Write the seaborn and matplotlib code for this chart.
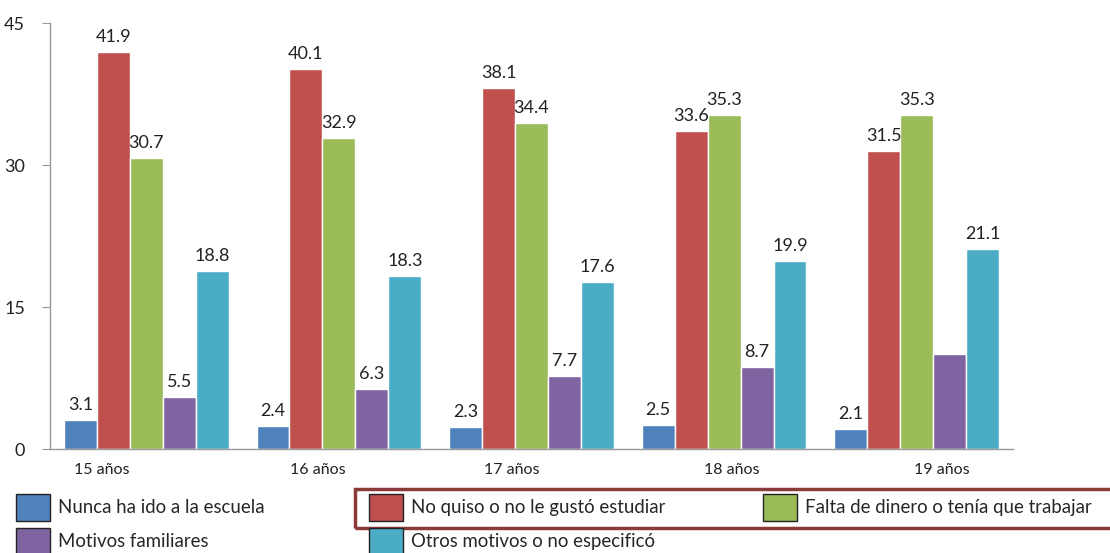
import pandas as pd
import seaborn as sns
import matplotlib.pyplot as plt
from matplotlib.patches import Rectangle

# data
grupos = ["15 años", "16 años", "17 años", "18 años", "19 años"]
series = ["Nunca ha ido a la escuela", "No quiso o no le gustó estudiar",
          "Falta de dinero o tenía que trabajar", "Motivos familiares",
          "Otros motivos o no especificó"]
nunca = [3.1, 2.4, 2.3, 2.5, 2.1]
no_quiso = [41.9, 40.1, 38.1, 33.6, 31.5]
falta_dinero = [30.7, 32.9, 34.4, 35.3, 35.3]
familiares = [5.5, 6.3, 7.7, 8.7, 10.0]
otros = [18.8, 18.3, 17.6, 19.9, 21.1]
# the 19 años purple bar has no label in the original
etiqueta_familiares = ["5.5", "6.3", "7.7", "8.7", ""]
colores = ["#4F81BD", "#C0504D", "#9BBB59", "#8064A2", "#4BACC6"]
# small shifts of the category labels, in group units
desplaz_x = [-0.23, -0.111, -0.101, 0.041, 0.131]

rows = []
for s, vals in zip(series, [nunca, no_quiso, falta_dinero, familiares, otros]):
    for g, v in zip(grupos, vals):
        rows.append({"grupo": g, "motivo": s, "valor": v})
df = pd.DataFrame(rows)

sns.set_style("white")
plt.rcParams['font.family'] = ['Lato', 'DejaVu Sans']

fig = plt.figure(figsize=(11.1, 5.53), dpi=100)
ax = fig.add_axes([50 / 1110, 0.188, 963 / 1110, 0.7704])
sns.barplot(data=df, x="grupo", y="valor", hue="motivo", order=grupos,
            hue_order=series, palette=colores, width=0.855, saturation=1,
            ax=ax, legend=False)

for i, cont in enumerate(ax.containers):
    if i == 3:
        labs = etiqueta_familiares
    else:
        labs = ["%.1f" % b.get_height() for b in cont]
    ax.bar_label(cont, labels=labs, padding=5, fontsize=13, color="#222222")

ax.set_xlim(-0.5, 4.5)
ax.set_ylim(0, 45)
ax.set_yticks([0, 15, 30, 45])
ax.set_xticks([])
ax.set_xlabel("")
ax.set_ylabel("")
ax.tick_params(axis="y", left=True, length=6, color="#999999", labelsize=13,
               labelcolor="#222222", pad=12)
for sp in ["top", "right"]:
    ax.spines[sp].set_visible(False)
for sp in ["left", "bottom"]:
    ax.spines[sp].set_color("#999999")
    ax.spines[sp].set_linewidth(1)

for i, g in enumerate(grupos):
    ax.text(i + desplaz_x[i], -2.2, g, ha="center", va="center", fontsize=11.5,
            color="#222222", transform=ax.transData)

# legend: one block per column so each column sits where the original has it
handles = [Rectangle((0, 0), 1, 1, facecolor=c, edgecolor="#222222", linewidth=1)
           for c in colores]
columnas = [([0, 3], 16), ([1, 4], 369), ([2], 763)]
for idx, x0 in columnas:
    fig.legend([handles[k] for k in idx], [series[k] for k in idx],
               loc="upper left", bbox_to_anchor=(x0 / 1110, 1 - 494 / 553),
               frameon=False, fontsize=13.4, handlelength=1.83, handleheight=1.85,
               handletextpad=0.4, labelspacing=0.38, borderpad=0, borderaxespad=0)

fig.patches.append(Rectangle((355 / 1110, 1 - 528 / 553), 760 / 1110, 39 / 553,
                             transform=fig.transFigure, fill=False,
                             edgecolor="#8B3A3A", linewidth=2.5))

fig.savefig("out.png", dpi=100)
